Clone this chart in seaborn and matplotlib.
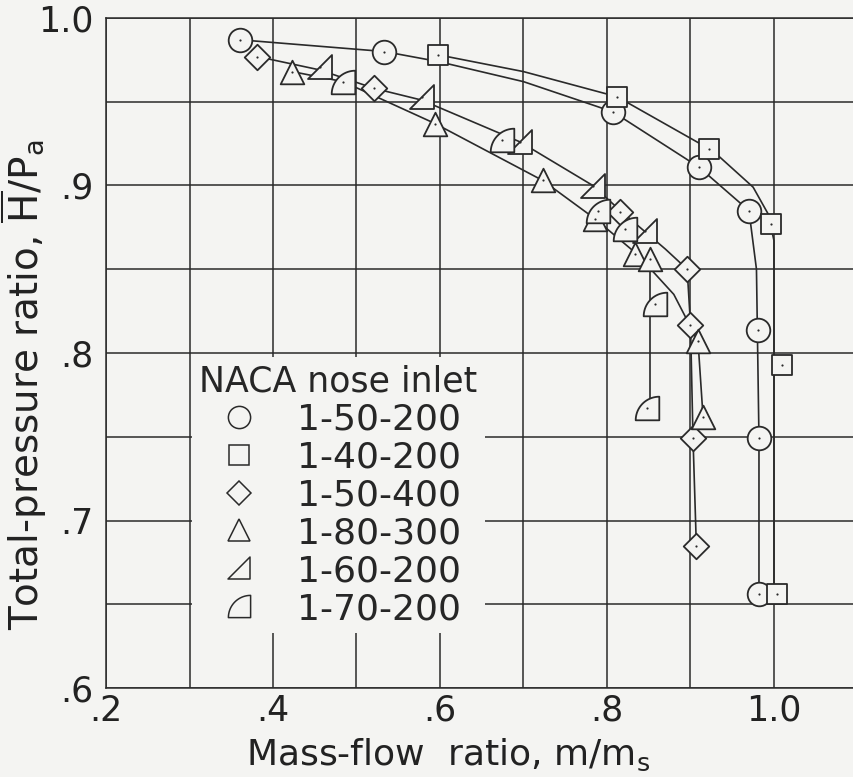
import numpy as np
import matplotlib
matplotlib.use("Agg")
import matplotlib.pyplot as plt
from matplotlib.path import Path
from matplotlib.lines import Line2D
from matplotlib.ticker import MultipleLocator, FuncFormatter
import seaborn as sns

x_50_200 = [0.360, 0.533, 0.807, 0.910, 0.970, 0.981, 0.982, 0.982]
y_50_200 = [0.987, 0.980, 0.944, 0.911, 0.885, 0.814, 0.749, 0.656]

x_40_200 = [0.598, 0.812, 0.922, 0.996, 1.010, 1.004]
y_40_200 = [0.978, 0.953, 0.922, 0.877, 0.793, 0.656]

x_50_400 = [0.381, 0.521, 0.816, 0.896, 0.900, 0.903, 0.907]
y_50_400 = [0.977, 0.958, 0.884, 0.850, 0.817, 0.749, 0.685]

x_80_300 = [0.423, 0.594, 0.723, 0.786, 0.833, 0.851, 0.909, 0.915]
y_80_300 = [0.968, 0.937, 0.903, 0.880, 0.859, 0.856, 0.807, 0.762]

x_60_200 = [0.456, 0.578, 0.696, 0.783, 0.845]
y_60_200 = [0.971, 0.953, 0.926, 0.900, 0.873]

x_70_200 = [0.484, 0.674, 0.789, 0.822, 0.857, 0.848]
y_70_200 = [0.962, 0.927, 0.885, 0.874, 0.829, 0.767]

# faired curves
curve_a_x = [0.360, 0.533, 0.598, 0.700, 0.807, 0.910, 0.970, 0.979, 0.982, 0.982]
curve_a_y = [0.987, 0.980, 0.974, 0.962, 0.944, 0.911, 0.885, 0.850, 0.749, 0.656]
curve_b_x = [0.598, 0.700, 0.812, 0.922, 0.935, 0.975, 0.993, 1.000, 1.000]
curve_b_y = [0.978, 0.968, 0.953, 0.922, 0.917, 0.899, 0.883, 0.867, 0.656]
curve_c_x = [0.381, 0.456, 0.521, 0.578, 0.696, 0.783, 0.816, 0.870, 0.896, 0.900, 0.903, 0.907]
curve_c_y = [0.977, 0.969, 0.958, 0.951, 0.926, 0.900, 0.885, 0.862, 0.850, 0.817, 0.749, 0.685]
curve_d_x = [0.423, 0.484, 0.594, 0.723, 0.786, 0.836, 0.880, 0.909, 0.915]
curve_d_y = [0.968, 0.962, 0.937, 0.903, 0.880, 0.859, 0.835, 0.807, 0.762]
curve_e_x = [0.851, 0.851]
curve_e_y = [0.860, 0.767]

labels = ["1-50-200", "1-40-200", "1-50-400", "1-80-300", "1-60-200", "1-70-200"]

# marker shapes: right triangle and quarter-disk flag
rtri = Path([(-1, -1), (1, -1), (1, 1), (-1, -1)],
            [Path.MOVETO, Path.LINETO, Path.LINETO, Path.CLOSEPOLY])
t = np.linspace(np.pi, np.pi / 2, 20)
arc = list(zip(1 + 2 * np.cos(t), -1 + 2 * np.sin(t)))
qverts = [(1, -1), (-1, -1)] + arc[1:] + [(1, -1)]
qcirc = Path(qverts, [Path.MOVETO] + [Path.LINETO] * (len(qverts) - 2) + [Path.CLOSEPOLY])

sns.set_style("ticks")
plt.rcParams['font.family'] = ['DejaVu Sans']
plt.rcParams['mathtext.fontset'] = 'dejavusans'

bg = '#f4f4f2'
ink = '#2a2a2a'

fig = plt.figure(figsize=(8.54, 7.77), dpi=100, facecolor=bg)
ax = fig.add_axes([106 / 854, 89 / 777, 748 / 854, 670 / 777])
ax.set_facecolor(bg)

for cx, cy in [(curve_a_x, curve_a_y), (curve_b_x, curve_b_y), (curve_c_x, curve_c_y),
               (curve_d_x, curve_d_y), (curve_e_x, curve_e_y)]:
    sns.lineplot(x=cx, y=cy, sort=False, estimator=None, color=ink, lw=1.2, ax=ax, zorder=2)

series = [
    (x_50_200, y_50_200, 'o', 17),
    (x_40_200, y_40_200, 's', 15),
    (x_50_400, y_50_400, 'D', 13),
    (x_80_300, y_80_300, '^', 17),
    (x_60_200, y_60_200, rtri, 17),
    (x_70_200, y_70_200, qcirc, 17),
]

handles = []
for xs, ys, mk, ms in series:
    sns.scatterplot(x=xs, y=ys, marker=mk, s=ms ** 2, facecolor=bg, edgecolor=ink,
                    linewidth=1.3, ax=ax, zorder=3, legend=False)
    sns.scatterplot(x=xs, y=ys, marker='o', s=2.5, color=ink, linewidth=0,
                    ax=ax, zorder=4, legend=False)
    handles.append(Line2D([], [], marker=mk, ls='none', ms=ms - 1, mfc=bg, mec=ink, mew=1.1))

ax.set_xlim(0.2, 0.2 + 748 / 835)
ax.set_ylim(0.6, 1.0)
ax.xaxis.set_major_locator(MultipleLocator(0.1))
ax.yaxis.set_major_locator(MultipleLocator(0.05))


def xfmt(v, pos):
    k = int(round(v * 10))
    if k % 2:
        return ""
    return "1.0" if k == 10 else "." + str(k)


def yfmt(v, pos):
    k = int(round(v * 100))
    if k % 10:
        return ""
    return "1.0" if k == 100 else "." + str(k // 10)


ax.xaxis.set_major_formatter(FuncFormatter(xfmt))
ax.yaxis.set_major_formatter(FuncFormatter(yfmt))
ax.tick_params(axis='both', length=0, labelsize=25, colors='#222222')
ax.tick_params(axis='y', pad=9)
ax.tick_params(axis='x', pad=4)
ax.grid(True, color=ink, lw=1.1)
ax.set_axisbelow(True)
for side in ['left', 'top', 'bottom']:
    ax.spines[side].set_color(ink)
    ax.spines[side].set_linewidth(1.1)
ax.spines['right'].set_visible(False)

ax.set_xlabel(r'Mass-flow  ratio, $\mathrm{m/m_s}$', fontsize=26, color='#222222', va='top')
ax.xaxis.set_label_coords(0.457, -0.072)
ax.set_ylabel(r'Total-pressure ratio, $\overline{\mathrm{H}}/\mathrm{P_a}$', fontsize=28, color='#222222')
ax.yaxis.set_label_coords(-0.076, 0.452)

leg = ax.legend(handles, labels, title='NACA nose inlet', loc='upper left',
                bbox_to_anchor=(0.115, 0.494), frameon=True, facecolor=bg, edgecolor='none',
                framealpha=1, fancybox=False, fontsize=26, title_fontsize=25,
                handlelength=2.2, handletextpad=0.5, labelspacing=0.11,
                borderpad=0.2, borderaxespad=0, alignment='left')
leg.set_zorder(5)

fig.savefig("out.png", dpi=100, facecolor=bg)
